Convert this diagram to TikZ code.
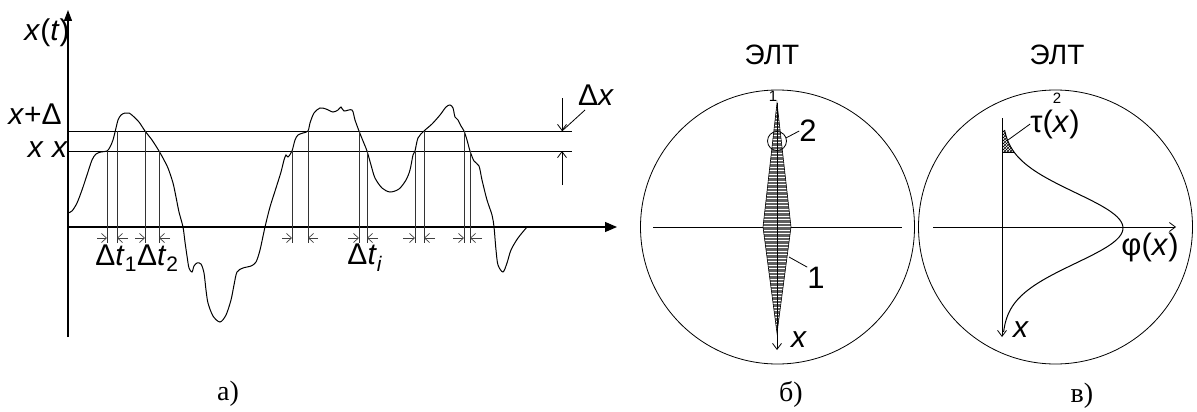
\documentclass[tikz,border=0pt]{standalone}
\usepackage{fontspec}
\setmainfont{Liberation Sans}
\newfontfamily\serifcap{Liberation Serif}
\usetikzlibrary{arrows.meta,patterns}
\tikzset{
  lab/.style={inner sep=0pt, font=\fontsize{30}{32}\selectfont},
  biglab/.style={inner sep=0pt, font=\fontsize{31}{33}\selectfont},
  smalltxt/.style={inner sep=0pt, font=\fontsize{15}{16}\selectfont},
  captxt/.style={inner sep=0pt, font=\serifcap\fontsize{28}{30}\selectfont},
  titletxt/.style={inner sep=0pt, font=\fontsize{28}{30}\selectfont},
  thinln/.style={line width=0.8pt},
  axisln/.style={line width=1.2pt},
  curveln/.style={line width=1pt},
  dimarr/.style={line width=0.7pt, black!75, -{Straight Barb[length=5pt,width=9pt]}},
  openarr/.style={line width=0.8pt, -{Straight Barb[length=6pt,width=9pt]}},
}
\begin{document}
\begin{tikzpicture}[x=1pt,y=-1pt]
\useasboundingbox (0,0) rectangle (1197,412);
% ---------- panel a ----------
\coordinate (yb) at (68,337);
\coordinate (yt) at (68,10);
\coordinate (xl) at (68,227);
\coordinate (xr) at (617,227);
\draw[axisln,-{Triangle[length=11pt,width=8pt]}] (yb) -- (yt);
\draw[axisln,-{Triangle[length=12pt,width=10pt]}] (xl) -- (xr);
\draw[thinln] (68,131) -- (572,131);
\draw[thinln] (68,151) -- (572,151);
% Delta x dimension
\draw[openarr] (562,98) -- (562,131);
\draw[openarr] (562,185) -- (562,151);
\node[lab] (dx) at (596,95) {Δ\textit{x}};
\draw[thinln] (562,131) -- (585,110);
% curve
\draw[curveln] plot[smooth, tension=0.5] coordinates {
(68,213) (72,211) (77,203) (82,190) (87,175) (92,160) (96,154) (101,152) (107,151)
(110,147) (113,140) (116,128) (118,120) (121,115) (125,113) (129,113) (133,116)
(139,122) (145,131) (152,140) (159,151) (164,160) (168,168) (173,183) (176,197)
(179,212) (183,227) (185,242) (187,256) (189,268) (192,272) (194,266) (197,263)
(201,264) (204,273) (206,290) (208,303) (213,316) (220,322) (226,315) (231,300)
(234,285) (237,272) (243,268) (251,266) (256,262) (260,250) (265,227) (270,207)
(276,188) (281,172) (284,160) (286,155) (288,157) (292,151) (295,140) (298,135)
(303,133) (308,131) (310,123) (314,113) (320,108) (326,109) (333,112) (338,110)
(341,107) (344,111) (352,110) (355,120) (359,131) (363,141) (367,151) (371,165)
(375,178) (382,188) (390,192) (399,189) (406,180) (410,170) (413,155) (415,151)
(418,138) (424,131) (432,124) (440,115) (446,107) (450,105) (453,108) (455,117)
(458,120) (461,126) (464,131) (467,140) (470,151) (474,161) (479,166) (482,180)
(487,200) (492,215) (494,227) (496,250) (498,265) (503,272) (507,263) (511,250)
(518,238) (527,227)};
% vertical drop lines
\foreach \xx/\yy in {107/151,117/131,145/131,159/151,292/151,308/131,359/131,367/151,415/151,424/131,464/131,470/151}
  \draw[thinln,black!80] (\xx,\yy) -- (\xx,243);
% dimension arrows
\foreach \a/\b in {97/107,128/117,135/145,170/159,282/292,318/308,348/359,378/367,403/415,435/424,453/464,482/470}
  \draw[dimarr] (\a,238) -- (\b,238);
% labels
\node[lab] (xt) at (47,33) {\textit{x}(\textit{t})};
\node[lab] (xpd) at (35,114) {\textit{x}+Δ};
\node[lab] (xx) at (48,150) {\textit{x} \textit{x}};
\node[lab] (dt12) at (137,258) {Δ\textit{t}\textsubscript{1}Δ\textit{t}\textsubscript{2}};
\node[lab] (dti) at (365,258) {Δ\textit{t}\textsubscript{\textit{i}}};
\node[captxt] (ca) at (228,394) {а)};
% ---------- panel b ----------
\node[titletxt] (t1) at (772,55) {ЭЛТ};
\node[draw, circle, thinln, minimum size=274pt, inner sep=0pt] (c1) at (777.5,227) {};
\draw[thinln] (653,227) -- (902,227);
\begin{scope}
\clip (777,103) -- (791,227) -- (777,333) -- (763,227) -- cycle;
\fill[black!62] (760,100) rectangle (795,336);
\foreach \yy in {104,107.5,...,334}
  \draw[white, line width=0.9pt] (760,\yy) -- (795,\yy);
\end{scope}
\draw[line width=0.6pt] (777,103) -- (791,227) -- (777,333) -- (763,227) -- cycle;
\draw[openarr] (777,103) -- (777,350);
\node[smalltxt] (n1t) at (773,96) {1};
\node[draw, circle, thinln, minimum size=19pt, inner sep=0pt] (sc) at (777,141) {};
\node[biglab] (n2) at (808,131) {2};
\draw[thinln] (sc.east) ++(-1,-3) -- (n2.west);
\node[biglab] (n1) at (816,278) {1};
\coordinate (l1a) at (789,257);
\draw[thinln] (l1a) -- (n1.north west);
\node[lab] (xb) at (799,340) {\textit{x}};
\node[captxt] (cb) at (791,394) {б)};
% ---------- panel v ----------
\node[titletxt] (t2) at (1057,55) {ЭЛТ};
\node[draw, circle, thinln, minimum size=274pt, inner sep=0pt] (c2) at (1055.5,227) {};
\draw[openarr] (933,227) -- (1176,227);
\draw[openarr] (1002,118) -- (1002,337);
\fill[pattern=crosshatch, pattern color=black] (1002,130) -- plot[domain=130:152, samples=12] ({1002+121*exp(-((\x-228)/50)^2)}, \x) -- (1002,152) -- cycle;
\draw[line width=0.5pt] (1002,152) -- ({1002+121*exp(-((152-228)/50)^2)},152);
\draw[curveln] plot[domain=130:332, samples=80, smooth] ({1002+121*exp(-((\x-228)/50)^2)}, \x);
\node[smalltxt] (n2t) at (1057,98) {2};
\node[biglab] (tau) at (1055,124) {τ(\textit{x})};
\coordinate (taua) at (1008,140);
\draw[thinln] (taua) -- (tau.west);
\node[biglab] (phi) at (1150,247) {φ(\textit{x})};
\node[lab] (xv) at (1021,330) {\textit{x}};
\node[captxt] (cv) at (1082,396) {в)};
\end{tikzpicture}
\end{document}
